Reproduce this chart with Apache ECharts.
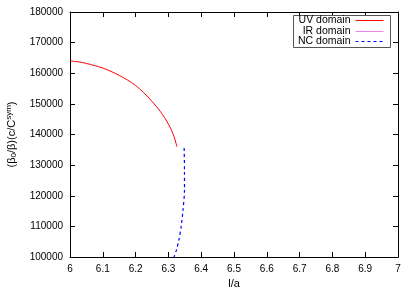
<!DOCTYPE html>
<html><head><meta charset="utf-8">
<script src="https://cdn.jsdelivr.net/npm/echarts@6/dist/echarts.min.js"></script>
<style>html,body{margin:0;padding:0;background:#fff}#c{width:415px;height:291px}</style>
</head><body><div id="c"></div>
<script>
const xTicks = [6, 6.1, 6.2, 6.3, 6.4, 6.5, 6.6, 6.7, 6.8, 6.9, 7];
const yTicks = [100000, 110000, 120000, 130000, 140000, 150000, 160000, 170000, 180000];
const seriesNames = ['UV domain', 'IR domain', 'NC domain'];
const uvData = [[6.0,164000],[6.025,163750],[6.05,163200],[6.075,162500],[6.1,161700],[6.125,160600],[6.15,159300],[6.175,157800],[6.2,156000],[6.225,153600],[6.25,150800],[6.275,147600],[6.3,143400],[6.315,140000],[6.326,136000]];
const irData = [];
const ncData = [[6.348,135600],[6.349,128000],[6.349,121900],[6.3445,115350],[6.339,110000],[6.332,105560],[6.325,102500],[6.317,100000]];

const font = 'Liberation Sans, Arial, sans-serif';
const colors = ['#ff0000', '#ee82ee', '#0000ff'];
const lineTypes = ['solid', 'solid', [3, 3]];
const chart = echarts.init(document.getElementById('c'), null, {renderer:'canvas'});
const axBase = {
  axisLine: {show: true, onZero: false, lineStyle: {color: '#000', width: 1}},
  axisTick: {show: true, inside: true, length: 5, lineStyle: {color: '#000', width: 1}},
  splitLine: {show: false}
};
const legendRowTops = [15, 26, 36];
chart.setOption({
  animation: false,
  grid: {left: 70, right: 17, top: 12, bottom: 34, containLabel: false, outerBoundsMode: 'none'},
  graphic: [{type: 'rect', left: 293, top: 15, shape: {width: 97, height: 32},
    style: {fill: '#fff', stroke: '#555', lineWidth: 1}, z: 10}],
  legend: seriesNames.map((n, i) => ({
    show: true, orient: 'horizontal', right: 31, top: legendRowTops[i],
    align: 'right', itemWidth: 28, itemHeight: 10, itemGap: 6, padding: 0, z: 20,
    itemStyle: {opacity: 0},
    lineStyle: {width: 1, color: colors[i], type: lineTypes[i]},
    textStyle: {fontFamily: font, fontSize: 10.5, color: '#000'},
    data: [n]
  })),
  xAxis: [
    Object.assign({}, axBase, {
      type: 'value', position: 'bottom', min: xTicks[0], max: xTicks[xTicks.length-1], interval: 0.1,
      name: 'l/a', nameLocation: 'middle', nameGap: 20,
      nameTextStyle: {fontFamily: font, fontSize: 11, color: '#000'},
      axisLabel: {show: true, margin: 7, fontFamily: font, fontSize: 10, color: '#000',
        formatter: v => String(Math.round(v*10)/10)}
    }),
    Object.assign({}, axBase, {
      type: 'value', position: 'top', min: xTicks[0], max: xTicks[xTicks.length-1], interval: 0.1,
      axisLabel: {show: false}
    })
  ],
  yAxis: [
    Object.assign({}, axBase, {
      type: 'value', position: 'left', min: yTicks[0], max: yTicks[yTicks.length-1], interval: 10000,
      name: '(β{sub|0}/β)(c/C{sup|sym})', nameLocation: 'middle', nameGap: 52, nameRotate: 90,
      nameTextStyle: {fontFamily: font, fontSize: 11, color: '#000',
        rich: {
          sub: {fontFamily: font, fontSize: 8, color: '#000', verticalAlign: 'bottom', padding: [4, 0, 0, 0]},
          sup: {fontFamily: font, fontSize: 8, color: '#000', verticalAlign: 'top', padding: [0, 0, 5, 0]}
        }},
      axisLabel: {show: true, margin: 7, fontFamily: font, fontSize: 10, color: '#000', formatter: v => String(v)}
    }),
    Object.assign({}, axBase, {
      type: 'value', position: 'right', min: yTicks[0], max: yTicks[yTicks.length-1], interval: 10000,
      axisLabel: {show: false}
    })
  ],
  series: [
    {name: seriesNames[0], type: 'line', data: uvData, showSymbol: false, symbol: 'none', smooth: 0.3,
      lineStyle: {color: colors[0], width: 1, type: lineTypes[0]}, itemStyle: {color: colors[0]}},
    {name: seriesNames[1], type: 'line', data: irData, showSymbol: false, symbol: 'none',
      lineStyle: {color: colors[1], width: 1, type: lineTypes[1]}, itemStyle: {color: colors[1]}},
    {name: seriesNames[2], type: 'line', data: ncData, showSymbol: false, symbol: 'none', smooth: 0.3,
      lineStyle: {color: colors[2], width: 1.2, type: lineTypes[2]}, itemStyle: {color: colors[2]}}
  ]
});
</script></body></html>
